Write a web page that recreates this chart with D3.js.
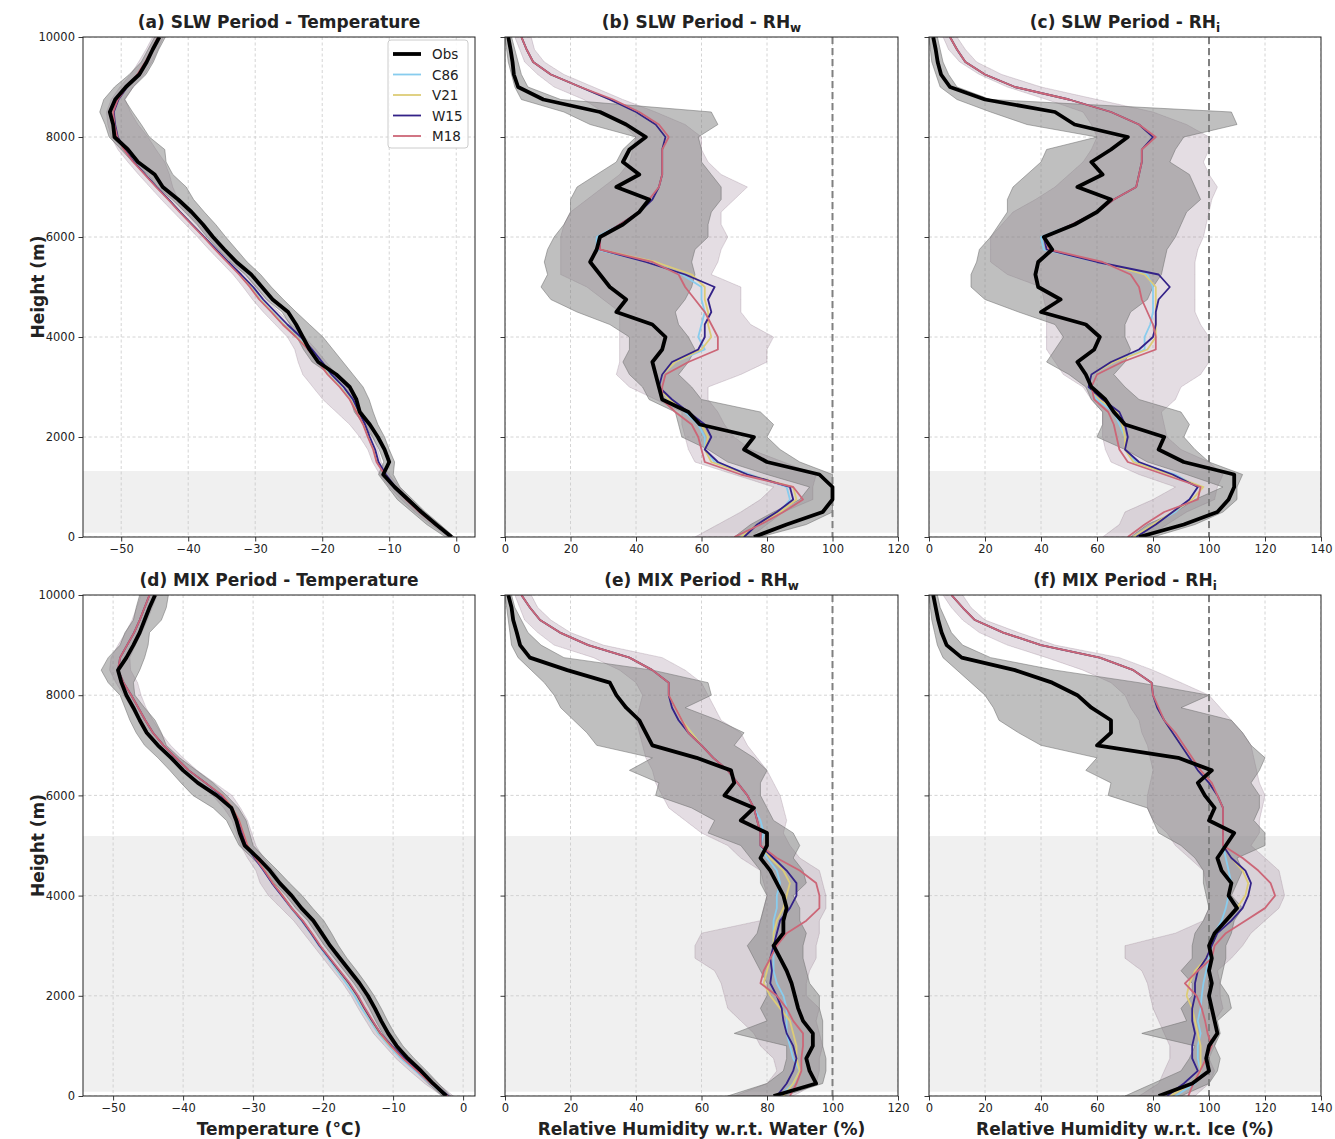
<!DOCTYPE html>
<html>
<head>
<meta charset="utf-8">
<script src="https://cdn.jsdelivr.net/npm/d3@7"></script>
<style>
body { margin: 0; background: #fff; }
text { font-family: "DejaVu Sans", sans-serif; fill: #222; }
.title, .axlabel { font-weight: bold; font-size: 17px; }
</style>
</head>
<body>
<div id="main"></div>
<script>
// levels (m) shared by every profile
var heights = [0,250,500,750,1000,1250,1500,1750,2000,2250,2500,2750,3000,3250,3500,3750,4000,4250,4500,4750,5000,5250,5500,5750,6000,6250,6500,6750,7000,7250,7500,7750,8000,8250,8500,8750,9000,9250,9500,9750,10000];

var modelNames = ["C86", "V21", "W15", "M18"];
var modelColors = ["#88CCEE", "#DDCC77", "#332288", "#CC6677"];

var tempTicks = [-50,-40,-30,-20,-10,0];
var rhwTicks = [0,20,40,60,80,100,120];
var rhiTicks = [0,20,40,60,80,100,120,140];
var heightTicks = [0,2000,4000,6000,8000,10000];

// shaded layer (m): SLW row, MIX row
var layerTop = [1320, 5190];
var layerBase = 85;

// (a) SLW temperature
var slwTObs   = [-0.7,-3.0,-5.2,-7.2,-9.2,-10.9,-10.0,-10.7,-11.7,-12.9,-14.4,-14.9,-15.9,-17.9,-20.6,-21.9,-22.9,-23.9,-25.1,-27.4,-29.0,-30.6,-32.8,-34.6,-36.3,-37.8,-39.5,-41.5,-43.8,-45.0,-47.5,-49.0,-51.0,-51.2,-51.7,-50.9,-49.3,-47.3,-46.2,-45.3,-44.3];
var slwTObsLo = [-1.6,-4.4,-6.6,-8.8,-10.2,-11.6,-10.8,-11.5,-12.5,-13.8,-15.2,-15.8,-16.8,-18.8,-21.5,-22.8,-23.8,-24.8,-26.0,-28.3,-29.9,-31.5,-33.7,-35.5,-37.2,-38.7,-40.5,-42.4,-44.6,-46.0,-48.3,-50.0,-51.8,-52.4,-53.2,-52.6,-51.0,-48.8,-47.0,-46.0,-45.0];
var slwTObsHi = [-0.3,-2.4,-4.6,-6.5,-8.4,-9.4,-9.2,-10.0,-10.7,-11.7,-12.4,-13.0,-13.9,-15.4,-16.9,-18.4,-19.9,-21.9,-23.9,-25.8,-27.6,-29.2,-31.2,-32.8,-34.4,-35.9,-37.6,-39.2,-40.3,-42.3,-43.3,-43.5,-45.8,-47.0,-48.3,-49.5,-48.2,-46.3,-45.2,-44.4,-43.4];
var slwTC86 = [-0.7,-3.1,-5.4,-7.4,-9.1,-10.6,-11.7,-12.2,-13.0,-13.7,-14.7,-15.7,-17.2,-19.0,-20.4,-21.9,-23.7,-25.7,-27.4,-29.2,-30.6,-32.3,-34.1,-35.9,-37.6,-39.4,-41.2,-42.9,-44.7,-46.4,-48.1,-49.5,-50.5,-50.9,-51.1,-50.4,-49.1,-47.5,-46.3,-45.3,-44.4];
var slwTV21 = [-0.7,-3.1,-5.4,-7.4,-9.1,-10.6,-11.8,-12.3,-13.1,-13.8,-14.8,-15.8,-17.3,-19.1,-20.5,-22.0,-23.8,-25.8,-27.5,-29.3,-30.7,-32.3,-34.1,-35.9,-37.6,-39.4,-41.2,-42.9,-44.7,-46.4,-48.1,-49.5,-50.5,-50.9,-51.1,-50.4,-49.1,-47.5,-46.3,-45.3,-44.4];
var slwTW15 = [-0.7,-3.1,-5.4,-7.4,-9.1,-10.5,-11.6,-12.1,-12.9,-13.6,-14.5,-15.4,-16.8,-18.6,-20.0,-21.5,-23.2,-25.2,-27.0,-28.8,-30.3,-32.1,-34.0,-35.8,-37.6,-39.4,-41.2,-42.9,-44.7,-46.4,-48.1,-49.5,-50.5,-50.9,-51.1,-50.4,-49.1,-47.5,-46.3,-45.3,-44.4];
var slwTM18 = [-0.7,-3.2,-5.5,-7.5,-9.2,-10.7,-11.9,-12.4,-13.2,-13.9,-14.9,-15.9,-17.4,-19.2,-20.6,-22.1,-23.9,-25.9,-27.6,-29.4,-30.8,-32.4,-34.2,-36.0,-37.7,-39.5,-41.3,-43.0,-44.8,-46.5,-48.2,-49.6,-50.6,-51.0,-51.2,-50.5,-49.2,-47.6,-46.4,-45.4,-44.5];
var slwTModLo = [-1.2,-3.8,-6.2,-8.2,-10.0,-11.4,-12.5,-13.2,-14.4,-15.9,-17.9,-19.9,-21.4,-22.9,-23.6,-24.1,-25.2,-27.0,-28.8,-30.4,-31.8,-33.3,-35.1,-36.9,-38.6,-40.4,-42.2,-44.0,-45.7,-47.4,-49.0,-50.5,-51.5,-52.0,-52.2,-51.5,-50.2,-48.6,-47.4,-46.3,-45.3];
var slwTModHi = [-0.3,-2.6,-4.9,-6.9,-8.5,-10.0,-11.2,-11.7,-12.4,-13.1,-14.0,-15.0,-16.3,-17.9,-19.4,-20.9,-22.6,-24.6,-26.4,-28.3,-29.7,-31.4,-33.2,-35.0,-36.6,-38.4,-40.0,-41.5,-42.3,-42.8,-43.5,-44.8,-46.0,-47.5,-48.6,-49.4,-48.2,-46.6,-45.4,-44.5,-43.7];

// (b) SLW RH over water
var slwWObs   = [76,86,97,100,100,96,80,73,76,59.5,56,48,47,46,45,48,49,45,34,37,32,29,26,28,29,36,41,44,34,41,36,38,43,37,29,11.7,4,2.7,2.3,1.7,1];
var slwWObsLo = [70,75,82,90,93,80,68,62,54,53,52,44,42,38,36,38,38,32,22,14,11,13,12,13,15,18,20,20,22,28,34,36,40,26,18,5,3,2,1,0.5,0];
var slwWObsHi = [78,92,100,100,100,100,90,84,80,82,78,60,57,53,56,58,56,53,52,55,57,58,57,58,62,62,63,66,66,63,60,60,59,65,63,17,7,5,4,3,2];
var slwWC86 = [72,77,84,87,86,75,64,61,61,59,55,50,47,48,52,61,59,60,61,60,60,54,44,28,28,35,41,45,47,48,48,48,49,46,40,32,23,14,8.6,6.6,5];
var slwWV21 = [72,77,84,89,88,74,63,61,62,60,56,50,47,48,52,60,63,62,62,61,61,57,46,29,29,35,41,45,47,48,48,48,49,46,40,32,23,14,8.6,6.6,5];
var slwWW15 = [73,77,83,88,87,74,65,61,63,61,56,51,47,48,51,59,61,61,63,62,64,55,43,29,29,35,41,45,47,48,48,48,49,46,40,32,23,14,8.6,6.6,5];
var slwWM18 = [70,78,85,91,88,72,61,60,59,57,52,48,48,49,56,65,65,63,61,58,55,53,45,29,29,35,41,44,47,48,48,48,50,47,41,33,23,14,8.6,6.6,5];
var slwWModLo = [58,65,72,78,82,70,58,56,55,54,54,46,38,34,35,35,35,35,35,30,25,17,17,17,17,18,20,25,30,35,38,39,40,36,30,24,15,10,6,4.5,3];
var slwWModHi = [75,80,85,94,94,95,85,75,70,67,65,62,62,72,80,80,82,75,72,72,72,63,65,66,68,66,66,70,74,66,62,60,60,55,46,36,27,18,12,9,8];

// (c) SLW RH over ice
var slwIObs   = [75,91,103,107,109,109,91,82,84,70,66,63,58,56,53,59,61,56,40,47,39,38,39,44,41,52,60,65,53,62,58,65,71,52,45,20,7.5,4.3,3.1,2.4,1.5];
var slwIObsLo = [72,78,88,95,105,92,78,70,60,62,62,58,56,50,42,45,48,45,32,20,15,15,17,18,22,25,28,28,30,35,40,42,60,35,22,10,4,2.5,1,0.5,0];
var slwIObsHi = [80,95,105,110,110,112,100,95,91,93,90,75,70,66,70,72,70,70,72,78,80,83,84,85,88,90,92,97,95,93,86,88,91,110,108,22,10,7,5,4,3];
var slwIC86 = [73,80,88,93,96,88,74,70,70,68,66,60,57,58,66,77,77,79,80,80,80,78,60,41,40,51,60,66,74,75,76,76,80,75,65,50,30.7,20,13,10,7.5];
var slwIV21 = [73,80,87,94,98,86,73,70,70,69,67,61,57,58,66,78,81,81,81,81,81,77,61,42,41,51,60,66,74,75,76,76,80,75,65,50,30.7,20,13,10,7.5];
var slwIW15 = [74,81,87,93,96,87,75,70,71,70,68,62,57,58,65,75,80,81,81,82,86,82,60,42,41,51,60,66,74,75,76,76,80,75,65,50,30.7,20,13,10,7.5];
var slwIM18 = [71,77,84,96,97,84,71,68,67,66,64,59,58,60,69,81,81,80,78,76,75,72,62,43,41,51,60,66,74,75,76,76,81,75,65,50,30.7,20,13,10,7.5];
var slwIModLo = [62,68,70,80,88,75,65,63,62,62,62,58,55,48,45,42,42,42,42,41,40,28,22,22,22,26,30,38,45,50,55,58,60,58,55,42,28,18,11,7,5];
var slwIModHi = [78,85,92,102,103,105,100,90,85,84,83,88,90,97,100,100,100,97,95,95,95,95,95,96,98,99,100,101,103,100,98,100,100,92,80,60,40,26,17,13,10];

// (d) MIX temperature
var mixTObs   = [-2.4,-4.3,-6.0,-7.9,-9.5,-10.7,-11.7,-12.6,-13.6,-14.8,-16.2,-17.6,-19.0,-20.2,-21.4,-23.1,-24.5,-26.2,-27.6,-29.3,-31.2,-31.9,-32.4,-33.1,-35.2,-37.9,-40.0,-41.7,-43.6,-45.2,-46.2,-47.1,-48.1,-48.8,-49.3,-48.1,-47.1,-46.2,-45.5,-44.8,-44.0];
var mixTObsLo = [-3.0,-5.0,-6.8,-8.7,-10.3,-11.5,-12.5,-13.4,-14.4,-15.6,-17.0,-18.4,-19.8,-21.0,-22.2,-23.9,-25.3,-27.0,-28.4,-30.1,-32.0,-32.9,-33.8,-35.7,-38.6,-40.3,-41.9,-43.6,-45.5,-46.7,-47.6,-48.3,-49.0,-50.7,-51.7,-50.7,-49.0,-48.3,-47.1,-46.7,-46.2];
var mixTObsHi = [-1.8,-3.5,-5.2,-7.0,-8.6,-9.8,-10.8,-11.7,-12.7,-13.9,-15.2,-16.6,-17.8,-18.8,-19.9,-21.5,-23.0,-24.8,-26.5,-28.3,-30.0,-30.5,-31.0,-32.1,-33.8,-35.7,-38.1,-40.5,-42.4,-43.1,-44.0,-45.5,-46.9,-47.1,-46.2,-45.5,-45.0,-44.8,-43.1,-42.4,-42.1];
var mixTC86 = [-2.3,-4.7,-6.8,-8.9,-10.6,-12.1,-13.3,-14.5,-15.5,-16.7,-18.0,-19.3,-20.6,-21.8,-23.1,-24.6,-25.9,-27.3,-28.5,-29.8,-30.9,-31.5,-32.1,-33.1,-34.5,-36.8,-39.2,-41.0,-42.8,-44.3,-45.4,-46.4,-47.4,-48.5,-49.3,-49.0,-48.0,-47.0,-46.2,-45.5,-44.8];
var mixTV21 = [-2.2,-4.5,-6.5,-8.6,-10.4,-11.9,-13.1,-14.2,-15.2,-16.4,-17.8,-19.1,-20.5,-21.7,-23.0,-24.5,-25.8,-27.2,-28.4,-29.7,-30.8,-31.4,-32.0,-33.0,-34.4,-36.8,-39.2,-41.0,-42.8,-44.3,-45.4,-46.4,-47.4,-48.5,-49.3,-49.0,-48.0,-47.0,-46.2,-45.5,-44.8];
var mixTW15 = [-2.1,-4.3,-6.3,-8.4,-10.2,-11.8,-13.0,-14.1,-15.1,-16.3,-17.7,-19.1,-20.5,-21.7,-23.0,-24.5,-25.9,-27.3,-28.5,-29.8,-30.9,-31.5,-32.1,-33.1,-34.5,-36.8,-39.2,-41.0,-42.8,-44.3,-45.4,-46.4,-47.4,-48.5,-49.3,-49.0,-48.0,-47.0,-46.2,-45.5,-44.8];
var mixTM18 = [-2.2,-4.6,-6.6,-8.6,-10.3,-11.8,-12.9,-14.0,-15.0,-16.2,-17.6,-19.0,-20.4,-21.6,-22.9,-24.5,-25.8,-27.2,-28.4,-29.7,-30.8,-31.4,-32.0,-33.0,-34.4,-36.8,-39.2,-41.0,-42.8,-44.3,-45.4,-46.4,-47.4,-48.5,-49.3,-49.0,-48.0,-47.0,-46.2,-45.5,-44.8];
var mixTModLo = [-3.0,-5.5,-7.6,-9.6,-11.2,-12.8,-13.9,-15.0,-16.0,-17.2,-18.6,-20.0,-21.4,-22.8,-24.2,-26.0,-27.8,-29.0,-29.6,-30.8,-31.8,-32.4,-33.0,-34.2,-35.8,-38.0,-40.3,-42.1,-43.9,-45.3,-46.4,-47.4,-48.5,-49.6,-50.5,-50.3,-49.3,-48.2,-47.3,-46.6,-46.0];
var mixTModHi = [-1.4,-3.6,-5.5,-7.5,-9.2,-10.8,-11.8,-12.8,-13.9,-15.2,-16.5,-17.9,-19.3,-20.4,-21.7,-23.2,-24.5,-25.9,-27.1,-28.5,-29.6,-30.2,-30.8,-31.8,-33.0,-35.5,-38.0,-40.0,-41.8,-43.2,-44.3,-45.3,-46.0,-46.5,-47.5,-47.6,-46.8,-45.9,-45.1,-44.4,-43.7];

// (e) MIX RH over water
var mixWObs   = [82,95,93,92,94,94,91,89.5,88.5,87.5,86,84,82,85,85,86,85,83,81,78,80,80,72,76,67,70,69,58.5,45,43,41,37,34,32,19,7.6,4.6,3.6,2.5,2,1];
var mixWObsLo = [68,80,85,86,86,70,80,78,80,80,78,76,74,77,78,79,80,78,78,75,72,62,64,57,46,47,38,45,28,25,21,17,15,12,8,4,2,1.5,1,0.5,0];
var mixWObsHi = [85,97,98,98,97,97,97,96,96,93,92,91,91,92,90,90,88,92,91,88,90,88,82,80,78,78,80,76,70,73,65,55,63,62,45,18,11,7,5,3,2];
var mixWC86 = [84,88,90,88,87,86,86,86,85,83,82,82,82,82,82,83,83,84,83,80,78,79,78,76,74,71,68,63.6,60,57,54,52,50,50,45,38,25.4,16.8,10.7,7.6,5];
var mixWV21 = [85,88,90,89,89,88,87,84,81,79,80,81,82,82,83,85,86,87,85,81,78,78,77,76,74,71,68,63.6,60,57,54,52,50,50,45,38,25.4,16.8,10.7,7.6,5];
var mixWW15 = [83,86,88,89,88,86,85,84.5,83,81,81.5,81,82,83,84,87,89,89,86,82,78,78,77,76,74,71,68,63.6,60,56,53,51,50,50,45,38,25.4,16.8,10.7,7.6,5];
var mixWM18 = [87,89,90.5,90.5,91,91,88,86,83,78,79,81,83,86,92,96,96,95,90,83,78,78,77,76,74,71,68,63.6,60,56,54,52,50,50,45,38,25.4,16.8,10.7,7.6,5];
var mixWModLo = [70,80,83,82,78,76,72,68,67,66,64,58,58,60,78,79,80,79,78,72,68,60,55,50,48,46,45,43,42,41,40,41,42,40,35,27,15,10,6,4.5,3];
var mixWModHi = [88,95,96,96,97,96,95,96,92,92,93,95,95,96,96,98,98,97,96,90,87,85,86,85,84,82,80,77,74,72,66,64,62,60,55,48,30,20,14,10,8];

// (f) MIX RH over ice
var mixIObs   = [82,94,100,99,100,103,102,101,100,101,100,101,100,102,106,110,107,108,104.5,103,106,109,100,102,98.5,96,101,89,60,65,65,58,53,44,30.7,11.7,6.3,4.5,3.3,2.4,1.5];
var mixIObsLo = [70,80,90,93,95,76,92,90,94,94,90,94,94,95,98,100,99,98,98,95,90,82,80,78,64,65,56,60,40,32,25,23,20,15,10,5,3,2,1,0.5,0];
var mixIObsHi = [90,100,103,104,102,104,103,108,107,104,105,106,106,108,109,112,108,110,112,110,120,120,116,118,118,115,118,120,115,112,108,90,100,75,45,22,12,8,6,4,3];
var mixIC86 = [88,95,97,96,96,97,96,97,97.4,98,99,100,101,102,104.5,106,107,108,107,106,105,105,105,105,103,100,96,93,90,87,84,81.5,80,79.5,73,61,40,26.5,16.4,12,8];
var mixIV21 = [86,94,97,97,97,96,95,94,92,93,95,99,101,103,106,110,113,114,112,108,105,105,105,105,103,100,96,93,90,87,84,81.5,80,79.5,73,61,40,26.5,16.4,12,8];
var mixIW15 = [85,91,96,94,94,95,94,94,95,95,96,99,101,103,108,112,114,115,113,108,105,105,105,105,103,100,96,93,90,87,84,81.5,80,79.5,73,61,40,26.5,16.4,12,8];
var mixIM18 = [92.6,94.4,96.8,99,101,99.5,98.6,97.4,95.6,91.4,96,101,102,106,113,120,123.6,122,117.6,112,105,105,105,105,103,101,97,94,91,88,84,82,80,79.5,73,61,40,26.5,16.4,12,8];
var mixIModLo = [75,82,84,86,86,84,82,80,79,78,76,70,70,88,98,100,100,99,98,93,88,85,80,78,78,79,80,79,78,76,75,72,70,65,55,42,28,18,12,8,5];
var mixIModHi = [95,100,102,100,102,103,102,105,104,104,103,108,112,115,120,125,127,126,125,120,115,118,118,119,120,118,117,116,115,112,108,104,100,90,80,68,45,32,20,15,12];


var panels = [
  {row:0, col:0, title:"(a) SLW Period - Temperature", sub:"", domain:[-55.7,2.8], ticks:tempTicks, sat:false,
   obs:slwTObs, lo:slwTObsLo, hi:slwTObsHi, mods:[slwTC86,slwTV21,slwTW15,slwTM18], mlo:slwTModLo, mhi:slwTModHi},
  {row:0, col:1, title:"(b) SLW Period - RH", sub:"w", domain:[0,120], ticks:rhwTicks, sat:true,
   obs:slwWObs, lo:slwWObsLo, hi:slwWObsHi, mods:[slwWC86,slwWV21,slwWW15,slwWM18], mlo:slwWModLo, mhi:slwWModHi},
  {row:0, col:2, title:"(c) SLW Period - RH", sub:"i", domain:[0,140], ticks:rhiTicks, sat:true,
   obs:slwIObs, lo:slwIObsLo, hi:slwIObsHi, mods:[slwIC86,slwIV21,slwIW15,slwIM18], mlo:slwIModLo, mhi:slwIModHi},
  {row:1, col:0, title:"(d) MIX Period - Temperature", sub:"", domain:[-54.3,1.7], ticks:tempTicks, sat:false,
   obs:mixTObs, lo:mixTObsLo, hi:mixTObsHi, mods:[mixTC86,mixTV21,mixTW15,mixTM18], mlo:mixTModLo, mhi:mixTModHi},
  {row:1, col:1, title:"(e) MIX Period - RH", sub:"w", domain:[0,120], ticks:rhwTicks, sat:true,
   obs:mixWObs, lo:mixWObsLo, hi:mixWObsHi, mods:[mixWC86,mixWV21,mixWW15,mixWM18], mlo:mixWModLo, mhi:mixWModHi},
  {row:1, col:2, title:"(f) MIX Period - RH", sub:"i", domain:[0,140], ticks:rhiTicks, sat:true,
   obs:mixIObs, lo:mixIObsLo, hi:mixIObsHi, mods:[mixIC86,mixIV21,mixIW15,mixIM18], mlo:mixIModLo, mhi:mixIModHi}
];

var colX = [83, 505, 929];
var colW = [392, 393, 392];
var rowY = [37, 595];
var rowH = [500, 501];
var xLabels = ["Temperature (\u00B0C)", "Relative Humidity w.r.t. Water (%)", "Relative Humidity w.r.t. Ice (%)"];

var svg = d3.select('#main')
  .append('svg')
  .attr("width", 1335)
  .attr("height", 1139);

svg.append('rect').attr('width', 1335).attr('height', 1139).attr('fill', '#fff');

var fmt = d3.format("d");

panels.forEach(function(p, pi) {
  var w = colW[p.col], h = rowH[p.row];
  var g = svg.append('g').attr('transform', 'translate(' + colX[p.col] + ',' + rowY[p.row] + ')');

  var x = d3.scaleLinear().domain(p.domain).range([0, w]);
  var y = d3.scaleLinear().domain([0, 10000]).range([h, 0]);

  g.append('clipPath').attr('id', 'clip' + pi)
    .append('rect').attr('width', w).attr('height', h);

  var plot = g.append('g').attr('clip-path', 'url(#clip' + pi + ')');

  // shaded layer
  plot.append('rect')
    .attr('x', 0)
    .attr('width', w)
    .attr('y', y(layerTop[p.row]))
    .attr('height', y(layerBase) - y(layerTop[p.row]))
    .attr('fill', '#f0f0f0');

  // grid
  plot.selectAll('.gx')
    .data(p.ticks)
    .enter()
    .append('line')
    .attr('x1', d => x(d)).attr('x2', d => x(d))
    .attr('y1', 0).attr('y2', h)
    .attr('stroke', '#c9c9c9').attr('stroke-width', 0.8)
    .attr('stroke-dasharray', '3,2.5');

  plot.selectAll('.gy')
    .data(heightTicks)
    .enter()
    .append('line')
    .attr('y1', d => y(d)).attr('y2', d => y(d))
    .attr('x1', 0).attr('x2', w)
    .attr('stroke', '#c9c9c9').attr('stroke-width', 0.8)
    .attr('stroke-dasharray', '3,2.5');

  var band = function(lo, hi) {
    return d3.area()
      .y((d, i) => y(d))
      .x0((d, i) => x(lo[i]))
      .x1((d, i) => x(hi[i]))(heights);
  };

  // model spread, one translucent layer per model colour
  modelColors.forEach(function(c) {
    plot.append('path')
      .attr('d', band(p.mlo, p.mhi))
      .attr('fill', c)
      .attr('fill-opacity', 0.07)
      .attr('stroke', c)
      .attr('stroke-opacity', 0.1)
      .attr('stroke-width', 0.8);
  });

  // obs spread
  plot.append('path')
    .attr('d', band(p.lo, p.hi))
    .attr('fill', '#808080')
    .attr('fill-opacity', 0.5)
    .attr('stroke', '#707070')
    .attr('stroke-opacity', 0.6)
    .attr('stroke-width', 0.9);

  if (p.sat) {
    plot.append('line')
      .attr('x1', x(100)).attr('x2', x(100))
      .attr('y1', 0).attr('y2', h)
      .attr('stroke', '#808080')
      .attr('stroke-width', 2)
      .attr('stroke-dasharray', '7,4');
  }

  var line = function(vals) {
    return d3.line().x((d, i) => x(vals[i])).y(d => y(d))(heights);
  };

  p.mods.forEach(function(vals, mi) {
    plot.append('path')
      .attr('d', line(vals))
      .attr('fill', 'none')
      .attr('stroke', modelColors[mi])
      .attr('stroke-width', 1.8)
      .attr('stroke-linejoin', 'round');
  });

  plot.append('path')
    .attr('d', line(p.obs))
    .attr('fill', 'none')
    .attr('stroke', '#000')
    .attr('stroke-width', 3.8)
    .attr('stroke-linejoin', 'round');

  // axes
  var xa = g.append('g')
    .attr('transform', 'translate(0,' + h + ')')
    .call(d3.axisBottom(x).tickValues(p.ticks).tickFormat(fmt).tickSize(4.5).tickPadding(3.5));
  var ya = g.append('g')
    .call(d3.axisLeft(y).tickValues(heightTicks).tickFormat(p.col === 0 ? fmt : '').tickSize(4.5).tickPadding(3.5));

  [xa, ya].forEach(function(a) {
    a.select('.domain').remove();
    a.attr('font-family', '"DejaVu Sans", sans-serif').attr('font-size', 11.5);
    a.selectAll('line').attr('stroke', '#222').attr('stroke-width', 0.9);
    a.selectAll('text').attr('fill', '#222');
  });

  g.append('rect')
    .attr('width', w).attr('height', h)
    .attr('fill', 'none')
    .attr('stroke', '#222')
    .attr('stroke-width', 1);

  var t = g.append('text')
    .attr('class', 'title')
    .attr('x', w / 2)
    .attr('y', -9)
    .attr('text-anchor', 'middle')
    .text(p.title);
  if (p.sub) {
    t.append('tspan').attr('dy', 4).attr('font-size', '12px').text(p.sub);
  }

  if (p.col === 0) {
    svg.append('text')
      .attr('class', 'axlabel')
      .attr('text-anchor', 'middle')
      .attr('transform', 'translate(44,' + (rowY[p.row] + h / 2) + ')rotate(-90)')
      .text("Height (m)");
  }
  if (p.row === 1) {
    svg.append('text')
      .attr('class', 'axlabel')
      .attr('text-anchor', 'middle')
      .attr('x', colX[p.col] + w / 2)
      .attr('y', 1135)
      .text(xLabels[p.col]);
  }

  // legend in first panel
  if (pi === 0) {
    var lg = g.append('g').attr('transform', 'translate(305,3)');
    lg.append('rect')
      .attr('width', 80).attr('height', 108)
      .attr('rx', 3)
      .attr('fill', '#fff').attr('fill-opacity', 0.85)
      .attr('stroke', '#cccccc');
    var names = ["Obs"].concat(modelNames);
    var cols = ["#000"].concat(modelColors);
    names.forEach(function(n, i) {
      var ly = 14 + i * 20.5;
      lg.append('line')
        .attr('x1', 5).attr('x2', 33)
        .attr('y1', ly).attr('y2', ly)
        .attr('stroke', cols[i])
        .attr('stroke-width', i === 0 ? 3.8 : 1.8);
      lg.append('text')
        .attr('x', 44).attr('y', ly + 5)
        .attr('font-size', '13.5px')
        .text(n);
    });
  }
});
</script>
</body>
</html>
